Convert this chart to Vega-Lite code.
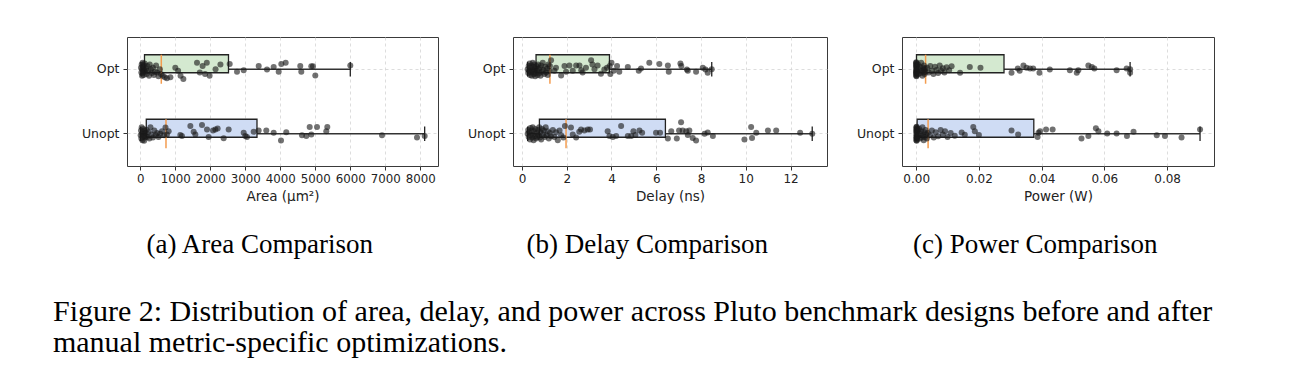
{
"$schema": "https://vega.github.io/schema/vega-lite/v6.json",
"background": "white",
"padding": {"left": 52, "top": 36, "right": 5, "bottom": 5},
"spacing": 27,
"title": {"text": ["Figure 2: Distribution of area, delay, and power across Pluto benchmark designs before and after", "manual metric-specific optimizations."], "orient": "bottom", "anchor": "start", "frame": "bounds", "dx": -28, "offset": 38, "font": "Liberation Serif", "fontSize": 30, "lineHeight": 31, "fontWeight": "normal", "color": "#000"},
"config": {
 "view": {"stroke": "#3a3a3a", "strokeWidth": 1},
 "axis": {"labelFont": "DejaVu Sans", "labelFontSize": 12, "labelColor": "#222", "labelOverlap": false, "titleFont": "DejaVu Sans", "titleFontSize": 13.5, "titleFontWeight": "normal", "titleColor": "#222", "tickColor": "#333", "tickSize": 4, "labelPadding": 3, "titlePadding": 5, "domain": false, "grid": true, "gridColor": "#d4d4d4", "gridDash": [3, 3], "gridWidth": 0.8}
},
"datasets": {
 "stats": [
  {"m": "Area", "g": "Opt", "lo": 20, "q1": 120, "med": 600, "q3": 2520, "hi": 6000},
  {"m": "Area", "g": "Unopt", "lo": 10, "q1": 171, "med": 734, "q3": 3334, "hi": 8125},
  {"m": "Delay", "g": "Opt", "lo": 0.255, "q1": 0.63, "med": 1.25, "q3": 3.91, "hi": 8.48},
  {"m": "Delay", "g": "Unopt", "lo": 0.255, "q1": 0.78, "med": 1.97, "q3": 6.41, "hi": 12.97},
  {"m": "Power", "g": "Opt", "lo": 0.0, "q1": 0.0001, "med": 0.003, "q3": 0.028, "hi": 0.0682},
  {"m": "Power", "g": "Unopt", "lo": 0.0, "q1": 0.0003, "med": 0.0038, "q3": 0.0375, "hi": 0.0905}
 ],
 "area": [
  {"g":"Opt","v":20,"j":-0.05},{"g":"Opt","v":30,"j":0.1},{"g":"Opt","v":40,"j":-0.15},{"g":"Opt","v":50,"j":0.2},{"g":"Opt","v":55,"j":0},{"g":"Opt","v":65,"j":-0.2},{"g":"Opt","v":70,"j":0.12},{"g":"Opt","v":80,"j":-0.08},{"g":"Opt","v":90,"j":0.05},{"g":"Opt","v":95,"j":0.18},{"g":"Opt","v":105,"j":-0.12},{"g":"Opt","v":110,"j":0.02},{"g":"Opt","v":125,"j":-0.18},{"g":"Opt","v":140,"j":0.08},{"g":"Opt","v":160,"j":-0.02},
  {"g":"Opt","v":180,"j":0.15},{"g":"Opt","v":200,"j":-0.1},{"g":"Opt","v":220,"j":0.05},{"g":"Opt","v":250,"j":0.2},{"g":"Opt","v":270,"j":-0.15},{"g":"Opt","v":300,"j":0},{"g":"Opt","v":330,"j":0.12},{"g":"Opt","v":360,"j":-0.05},{"g":"Opt","v":390,"j":0.18},{"g":"Opt","v":420,"j":0.08},{"g":"Opt","v":450,"j":-0.12},{"g":"Opt","v":480,"j":0.1},{"g":"Opt","v":520,"j":0.22},{"g":"Opt","v":560,"j":0},{"g":"Opt","v":590,"j":0.15},
  {"g":"Opt","v":640,"j":0.2},{"g":"Opt","v":700,"j":0.25},{"g":"Opt","v":760,"j":0.28},{"g":"Opt","v":860,"j":0.25},{"g":"Opt","v":1000,"j":-0.05},{"g":"Opt","v":1080,"j":0.05},{"g":"Opt","v":1150,"j":0.2},{"g":"Opt","v":1230,"j":0.3},{"g":"Opt","v":1620,"j":-0.2},{"g":"Opt","v":1700,"j":0.1},{"g":"Opt","v":1780,"j":-0.1},{"g":"Opt","v":1850,"j":0.15},{"g":"Opt","v":1900,"j":-0.2},{"g":"Opt","v":1980,"j":0.2},{"g":"Opt","v":2150,"j":0},{"g":"Opt","v":2290,"j":-0.15},
  {"g":"Opt","v":2554,"j":-0.16},{"g":"Opt","v":2763,"j":0.08},{"g":"Opt","v":2954,"j":0.03},{"g":"Opt","v":3383,"j":-0.1},{"g":"Opt","v":3620,"j":0.01},{"g":"Opt","v":3811,"j":-0.07},{"g":"Opt","v":3954,"j":0.08},{"g":"Opt","v":4029,"j":-0.16},{"g":"Opt","v":4154,"j":-0.2},{"g":"Opt","v":4571,"j":-0.1},{"g":"Opt","v":4600,"j":0.08},{"g":"Opt","v":4886,"j":-0.09},{"g":"Opt","v":4934,"j":-0.09},{"g":"Opt","v":5000,"j":0.19},{"g":"Opt","v":6000,"j":-0.12},
  {"g":"Unopt","v":10,"j":0.05},{"g":"Unopt","v":20,"j":-0.1},{"g":"Unopt","v":30,"j":0.15},{"g":"Unopt","v":40,"j":-0.2},{"g":"Unopt","v":50,"j":0},{"g":"Unopt","v":60,"j":0.2},{"g":"Unopt","v":70,"j":-0.05},{"g":"Unopt","v":80,"j":0.1},{"g":"Unopt","v":90,"j":-0.15},{"g":"Unopt","v":100,"j":0.05},{"g":"Unopt","v":110,"j":0.22},{"g":"Unopt","v":125,"j":-0.1},{"g":"Unopt","v":135,"j":0.12},{"g":"Unopt","v":150,"j":-0.02},{"g":"Unopt","v":165,"j":0.08},
  {"g":"Unopt","v":180,"j":-0.12},{"g":"Unopt","v":200,"j":0.1},{"g":"Unopt","v":230,"j":-0.05},{"g":"Unopt","v":260,"j":0.15},{"g":"Unopt","v":290,"j":-0.2},{"g":"Unopt","v":320,"j":0.02},{"g":"Unopt","v":360,"j":0.12},{"g":"Unopt","v":400,"j":-0.1},{"g":"Unopt","v":440,"j":0.05},{"g":"Unopt","v":480,"j":-0.02},{"g":"Unopt","v":520,"j":0.1},{"g":"Unopt","v":570,"j":0},{"g":"Unopt","v":620,"j":-0.08},{"g":"Unopt","v":680,"j":0.05},{"g":"Unopt","v":720,"j":-0.19},
  {"g":"Unopt","v":760,"j":0.02},{"g":"Unopt","v":810,"j":-0.08},{"g":"Unopt","v":1144,"j":0.04},{"g":"Unopt","v":1190,"j":0.07},{"g":"Unopt","v":1430,"j":-0.24},{"g":"Unopt","v":1525,"j":-0.06},{"g":"Unopt","v":1573,"j":0.02},{"g":"Unopt","v":1763,"j":-0.27},{"g":"Unopt","v":1906,"j":-0.13},{"g":"Unopt","v":1953,"j":0.1},{"g":"Unopt","v":2077,"j":-0.1},{"g":"Unopt","v":2144,"j":-0.13},{"g":"Unopt","v":2210,"j":-0.16},{"g":"Unopt","v":2382,"j":0.14},{"g":"Unopt","v":2525,"j":-0.13},{"g":"Unopt","v":2954,"j":-0.03},{"g":"Unopt","v":3001,"j":0.07},{"g":"Unopt","v":3049,"j":0.1},{"g":"Unopt","v":3239,"j":-0.06},
  {"g":"Unopt","v":3382,"j":-0.1},{"g":"Unopt","v":3600,"j":-0.1},{"g":"Unopt","v":3811,"j":-0.03},{"g":"Unopt","v":4020,"j":0.21},{"g":"Unopt","v":4171,"j":-0.05},{"g":"Unopt","v":4620,"j":0.05},{"g":"Unopt","v":4743,"j":0.07},{"g":"Unopt","v":4840,"j":-0.21},{"g":"Unopt","v":4886,"j":0.02},{"g":"Unopt","v":5049,"j":-0.21},{"g":"Unopt","v":5314,"j":-0.08},{"g":"Unopt","v":5343,"j":-0.21},{"g":"Unopt","v":6906,"j":0.05},{"g":"Unopt","v":7906,"j":0.12},{"g":"Unopt","v":8125,"j":0.07}
 ],
 "delay": [
  {"g":"Opt","v":0.255,"j":0},{"g":"Opt","v":0.28,"j":0.12},{"g":"Opt","v":0.3,"j":-0.1},{"g":"Opt","v":0.32,"j":0.05},{"g":"Opt","v":0.34,"j":-0.18},{"g":"Opt","v":0.36,"j":0.18},{"g":"Opt","v":0.38,"j":-0.05},{"g":"Opt","v":0.4,"j":0.1},{"g":"Opt","v":0.42,"j":-0.12},{"g":"Opt","v":0.44,"j":0.2},{"g":"Opt","v":0.46,"j":0.02},{"g":"Opt","v":0.48,"j":-0.2},{"g":"Opt","v":0.5,"j":0.08},{"g":"Opt","v":0.52,"j":-0.08},{"g":"Opt","v":0.54,"j":0.15},{"g":"Opt","v":0.55,"j":-0.15},{"g":"Opt","v":0.57,"j":0.03},{"g":"Opt","v":0.59,"j":0.22},{"g":"Opt","v":0.6,"j":-0.03},{"g":"Opt","v":0.62,"j":0.12},
  {"g":"Opt","v":0.65,"j":-0.1},{"g":"Opt","v":0.68,"j":0.05},{"g":"Opt","v":0.7,"j":0.18},{"g":"Opt","v":0.72,"j":-0.15},{"g":"Opt","v":0.75,"j":0},{"g":"Opt","v":0.78,"j":0.12},{"g":"Opt","v":0.8,"j":-0.05},{"g":"Opt","v":0.83,"j":0.2},{"g":"Opt","v":0.86,"j":-0.12},{"g":"Opt","v":0.9,"j":0.08},{"g":"Opt","v":0.93,"j":-0.2},{"g":"Opt","v":0.96,"j":0.02},{"g":"Opt","v":1.0,"j":0.15},{"g":"Opt","v":1.04,"j":-0.08},{"g":"Opt","v":1.08,"j":0.1},{"g":"Opt","v":1.12,"j":-0.02},{"g":"Opt","v":1.15,"j":0.18},{"g":"Opt","v":1.18,"j":-0.15},{"g":"Opt","v":1.22,"j":0.05},{"g":"Opt","v":1.25,"j":-0.1},
  {"g":"Opt","v":1.3,"j":-0.28},{"g":"Opt","v":1.45,"j":0.05},{"g":"Opt","v":1.52,"j":-0.05},{"g":"Opt","v":1.75,"j":0.19},{"g":"Opt","v":1.9,"j":-0.1},{"g":"Opt","v":1.97,"j":0.08},{"g":"Opt","v":2.12,"j":-0.12},{"g":"Opt","v":2.27,"j":0.05},{"g":"Opt","v":2.42,"j":-0.12},{"g":"Opt","v":2.57,"j":-0.12},{"g":"Opt","v":2.65,"j":0.03},{"g":"Opt","v":2.71,"j":0.1},{"g":"Opt","v":2.86,"j":-0.05},{"g":"Opt","v":3.09,"j":-0.28},{"g":"Opt","v":3.15,"j":-0.15},{"g":"Opt","v":3.24,"j":0},{"g":"Opt","v":3.38,"j":-0.12},{"g":"Opt","v":3.53,"j":0.14},{"g":"Opt","v":3.68,"j":0.01},{"g":"Opt","v":3.8,"j":-0.05},
  {"g":"Opt","v":3.92,"j":-0.1},{"g":"Opt","v":3.95,"j":0.15},{"g":"Opt","v":4.0,"j":-0.2},{"g":"Opt","v":4.1,"j":0.05},{"g":"Opt","v":4.25,"j":-0.1},{"g":"Opt","v":4.35,"j":0.08},{"g":"Opt","v":4.73,"j":-0.07},{"g":"Opt","v":5.22,"j":0.05},{"g":"Opt","v":5.32,"j":-0.02},{"g":"Opt","v":5.69,"j":-0.2},{"g":"Opt","v":6.14,"j":-0.16},{"g":"Opt","v":6.52,"j":-0.12},{"g":"Opt","v":6.56,"j":0.08},{"g":"Opt","v":7.08,"j":-0.18},{"g":"Opt","v":7.12,"j":-0.1},{"g":"Opt","v":7.37,"j":0.01},{"g":"Opt","v":7.41,"j":0.05},{"g":"Opt","v":7.78,"j":0.08},{"g":"Opt","v":8.08,"j":-0.05},{"g":"Opt","v":8.2,"j":0.01},{"g":"Opt","v":8.3,"j":0.11},{"g":"Opt","v":8.48,"j":0},
  {"g":"Unopt","v":0.255,"j":0},{"g":"Unopt","v":0.28,"j":-0.12},{"g":"Unopt","v":0.3,"j":0.1},{"g":"Unopt","v":0.33,"j":-0.05},{"g":"Unopt","v":0.36,"j":0.18},{"g":"Unopt","v":0.38,"j":-0.18},{"g":"Unopt","v":0.4,"j":0.05},{"g":"Unopt","v":0.43,"j":-0.1},{"g":"Unopt","v":0.46,"j":0.12},{"g":"Unopt","v":0.48,"j":-0.2},{"g":"Unopt","v":0.5,"j":0.02},{"g":"Unopt","v":0.52,"j":0.2},{"g":"Unopt","v":0.55,"j":-0.08},{"g":"Unopt","v":0.58,"j":0.08},{"g":"Unopt","v":0.6,"j":-0.15},{"g":"Unopt","v":0.63,"j":0.15},{"g":"Unopt","v":0.66,"j":-0.03},{"g":"Unopt","v":0.69,"j":0.1},{"g":"Unopt","v":0.72,"j":-0.12},{"g":"Unopt","v":0.75,"j":0.05},{"g":"Unopt","v":0.77,"j":-0.2},
  {"g":"Unopt","v":0.8,"j":0.12},{"g":"Unopt","v":0.83,"j":-0.05},{"g":"Unopt","v":0.86,"j":0.18},{"g":"Unopt","v":0.9,"j":-0.15},{"g":"Unopt","v":0.94,"j":0.02},{"g":"Unopt","v":0.98,"j":-0.1},{"g":"Unopt","v":1.02,"j":0.1},{"g":"Unopt","v":1.06,"j":-0.2},{"g":"Unopt","v":1.1,"j":0.05},{"g":"Unopt","v":1.15,"j":-0.08},{"g":"Unopt","v":1.2,"j":0.15},{"g":"Unopt","v":1.25,"j":-0.02},{"g":"Unopt","v":1.3,"j":0.08},{"g":"Unopt","v":1.38,"j":-0.12},{"g":"Unopt","v":1.45,"j":0.1},{"g":"Unopt","v":1.52,"j":-0.05},{"g":"Unopt","v":1.6,"j":0.2},{"g":"Unopt","v":1.68,"j":-0.1},{"g":"Unopt","v":1.75,"j":0.05},{"g":"Unopt","v":1.85,"j":0.12},{"g":"Unopt","v":1.92,"j":-0.24},
  {"g":"Unopt","v":2.19,"j":-0.19},{"g":"Unopt","v":2.27,"j":0.02},{"g":"Unopt","v":2.42,"j":0.12},{"g":"Unopt","v":2.56,"j":-0.06},{"g":"Unopt","v":2.64,"j":-0.13},{"g":"Unopt","v":2.79,"j":-0.1},{"g":"Unopt","v":2.94,"j":-0.13},{"g":"Unopt","v":3.04,"j":-0.13},{"g":"Unopt","v":3.83,"j":-0.08},{"g":"Unopt","v":3.91,"j":0.07},{"g":"Unopt","v":4.06,"j":0.1},{"g":"Unopt","v":4.21,"j":0.07},{"g":"Unopt","v":4.43,"j":-0.24},{"g":"Unopt","v":4.73,"j":0.07},{"g":"Unopt","v":4.88,"j":0.07},{"g":"Unopt","v":4.98,"j":-0.08},{"g":"Unopt","v":5.07,"j":0.04},{"g":"Unopt","v":5.25,"j":-0.1},{"g":"Unopt","v":5.37,"j":-0.03},{"g":"Unopt","v":5.99,"j":-0.03},{"g":"Unopt","v":6.17,"j":-0.03},
  {"g":"Unopt","v":6.52,"j":0.15},{"g":"Unopt","v":6.67,"j":-0.08},{"g":"Unopt","v":6.92,"j":0.15},{"g":"Unopt","v":7.02,"j":-0.1},{"g":"Unopt","v":7.11,"j":-0.36},{"g":"Unopt","v":7.18,"j":-0.1},{"g":"Unopt","v":7.34,"j":-0.08},{"g":"Unopt","v":7.41,"j":0.04},{"g":"Unopt","v":7.48,"j":-0.1},{"g":"Unopt","v":7.63,"j":0.13},{"g":"Unopt","v":7.78,"j":0.21},{"g":"Unopt","v":8.16,"j":0},{"g":"Unopt","v":8.3,"j":-0.04},{"g":"Unopt","v":8.53,"j":0.07},{"g":"Unopt","v":9.94,"j":0.18},{"g":"Unopt","v":10.24,"j":-0.21},{"g":"Unopt","v":10.28,"j":0.13},{"g":"Unopt","v":10.47,"j":-0.03},{"g":"Unopt","v":10.99,"j":-0.1},{"g":"Unopt","v":11.36,"j":-0.1},{"g":"Unopt","v":12.43,"j":-0.03},{"g":"Unopt","v":12.97,"j":0}
 ],
 "power": [
  {"g":"Opt","v":0.00001,"j":0.1},{"g":"Opt","v":0.00002,"j":-0.1},{"g":"Opt","v":0.00003,"j":0.2},{"g":"Opt","v":0.00004,"j":-0.2},{"g":"Opt","v":0.00005,"j":0},{"g":"Opt","v":0.00006,"j":0.15},{"g":"Opt","v":0.00007,"j":-0.15},{"g":"Opt","v":0.00008,"j":0.05},{"g":"Opt","v":0.00009,"j":-0.05},{"g":"Opt","v":0.0001,"j":0.22},{"g":"Opt","v":0.00002,"j":-0.22},{"g":"Opt","v":0.00004,"j":0.12},{"g":"Opt","v":0.00006,"j":-0.08},{"g":"Opt","v":0.00008,"j":0.18},{"g":"Opt","v":0.00003,"j":-0.18},{"g":"Opt","v":0.00005,"j":0.08},{"g":"Opt","v":0.00007,"j":-0.12},{"g":"Opt","v":0.00009,"j":0.02},
  {"g":"Opt","v":0.0002,"j":0.1},{"g":"Opt","v":0.0003,"j":-0.1},{"g":"Opt","v":0.0004,"j":0.05},{"g":"Opt","v":0.0006,"j":-0.15},{"g":"Opt","v":0.0008,"j":0.15},{"g":"Opt","v":0.001,"j":0},{"g":"Opt","v":0.0012,"j":-0.08},{"g":"Opt","v":0.0014,"j":0.12},{"g":"Opt","v":0.0016,"j":-0.2},{"g":"Opt","v":0.0018,"j":0.05},{"g":"Opt","v":0.002,"j":0.2},{"g":"Opt","v":0.0022,"j":-0.05},{"g":"Opt","v":0.0024,"j":0.1},{"g":"Opt","v":0.0025,"j":-0.12},{"g":"Opt","v":0.0026,"j":0.02},{"g":"Opt","v":0.0027,"j":0.15},{"g":"Opt","v":0.0028,"j":-0.02},{"g":"Opt","v":0.0029,"j":0.08},
  {"g":"Opt","v":0.0035,"j":-0.05},{"g":"Opt","v":0.004,"j":0.1},{"g":"Opt","v":0.0045,"j":-0.1},{"g":"Opt","v":0.005,"j":0.05},{"g":"Opt","v":0.0055,"j":0.15},{"g":"Opt","v":0.006,"j":-0.08},{"g":"Opt","v":0.0065,"j":0.02},{"g":"Opt","v":0.007,"j":0.12},{"g":"Opt","v":0.0075,"j":-0.12},{"g":"Opt","v":0.008,"j":0.05},{"g":"Opt","v":0.0085,"j":-0.03},{"g":"Opt","v":0.009,"j":0.1},{"g":"Opt","v":0.0097,"j":-0.06},{"g":"Opt","v":0.0105,"j":0.03},{"g":"Opt","v":0.0113,"j":-0.09},{"g":"Opt","v":0.014,"j":0.11},{"g":"Opt","v":0.0171,"j":-0.07},{"g":"Opt","v":0.0205,"j":-0.05},
  {"g":"Opt","v":0.0304,"j":0.11},{"g":"Opt","v":0.0324,"j":-0.02},{"g":"Opt","v":0.033,"j":0.05},{"g":"Opt","v":0.0342,"j":-0.12},{"g":"Opt","v":0.0352,"j":-0.05},{"g":"Opt","v":0.0363,"j":-0.02},{"g":"Opt","v":0.0373,"j":-0.02},{"g":"Opt","v":0.0393,"j":0.11},{"g":"Opt","v":0.0426,"j":0.01},{"g":"Opt","v":0.049,"j":0.03},{"g":"Opt","v":0.0512,"j":0.11},{"g":"Opt","v":0.0517,"j":0.03},{"g":"Opt","v":0.0549,"j":-0.12},{"g":"Opt","v":0.056,"j":-0.07},{"g":"Opt","v":0.0568,"j":-0.02},{"g":"Opt","v":0.0639,"j":0.03},{"g":"Opt","v":0.0671,"j":-0.02},{"g":"Opt","v":0.0682,"j":0.11},{"g":"Opt","v":0.0682,"j":0},
  {"g":"Unopt","v":0.00001,"j":-0.1},{"g":"Unopt","v":0.00002,"j":0.1},{"g":"Unopt","v":0.00004,"j":-0.2},{"g":"Unopt","v":0.00005,"j":0.2},{"g":"Unopt","v":0.00007,"j":0},{"g":"Unopt","v":0.00009,"j":-0.15},{"g":"Unopt","v":0.0001,"j":0.15},{"g":"Unopt","v":0.00012,"j":-0.05},{"g":"Unopt","v":0.00014,"j":0.05},{"g":"Unopt","v":0.00016,"j":0.22},{"g":"Unopt","v":0.00018,"j":-0.22},{"g":"Unopt","v":0.0002,"j":0.12},{"g":"Unopt","v":0.00022,"j":-0.08},{"g":"Unopt","v":0.00024,"j":0.18},{"g":"Unopt","v":0.00026,"j":-0.18},{"g":"Unopt","v":0.00028,"j":0.08},{"g":"Unopt","v":0.0003,"j":-0.12},
  {"g":"Unopt","v":0.0004,"j":0.1},{"g":"Unopt","v":0.0006,"j":-0.1},{"g":"Unopt","v":0.0008,"j":0.05},{"g":"Unopt","v":0.001,"j":-0.15},{"g":"Unopt","v":0.0012,"j":0.15},{"g":"Unopt","v":0.0014,"j":0},{"g":"Unopt","v":0.0016,"j":-0.08},{"g":"Unopt","v":0.0018,"j":0.12},{"g":"Unopt","v":0.002,"j":-0.2},{"g":"Unopt","v":0.0022,"j":0.05},{"g":"Unopt","v":0.0024,"j":0.2},{"g":"Unopt","v":0.0026,"j":-0.05},{"g":"Unopt","v":0.0028,"j":0.1},{"g":"Unopt","v":0.003,"j":-0.12},{"g":"Unopt","v":0.0032,"j":0.02},{"g":"Unopt","v":0.0034,"j":0.15},{"g":"Unopt","v":0.0037,"j":-0.02},
  {"g":"Unopt","v":0.0044,"j":0.05},{"g":"Unopt","v":0.005,"j":-0.1},{"g":"Unopt","v":0.0056,"j":0.12},{"g":"Unopt","v":0.0062,"j":-0.05},{"g":"Unopt","v":0.007,"j":0.08},{"g":"Unopt","v":0.0078,"j":-0.12},{"g":"Unopt","v":0.0085,"j":0.02},{"g":"Unopt","v":0.0092,"j":-0.08},{"g":"Unopt","v":0.01,"j":0.1},{"g":"Unopt","v":0.011,"j":-0.02},{"g":"Unopt","v":0.0123,"j":0.06},{"g":"Unopt","v":0.0145,"j":-0.04},{"g":"Unopt","v":0.0155,"j":0.03},{"g":"Unopt","v":0.0182,"j":-0.21},{"g":"Unopt","v":0.0187,"j":-0.08},{"g":"Unopt","v":0.02,"j":0.04},{"g":"Unopt","v":0.0304,"j":-0.1},{"g":"Unopt","v":0.0325,"j":0.02},
  {"g":"Unopt","v":0.0387,"j":0.1},{"g":"Unopt","v":0.039,"j":-0.03},{"g":"Unopt","v":0.0395,"j":-0.08},{"g":"Unopt","v":0.0414,"j":-0.13},{"g":"Unopt","v":0.0435,"j":-0.13},{"g":"Unopt","v":0.0527,"j":0.15},{"g":"Unopt","v":0.0549,"j":0.07},{"g":"Unopt","v":0.0573,"j":-0.17},{"g":"Unopt","v":0.0581,"j":-0.08},{"g":"Unopt","v":0.0609,"j":-0.01},{"g":"Unopt","v":0.0639,"j":-0.01},{"g":"Unopt","v":0.0672,"j":0.07},{"g":"Unopt","v":0.0693,"j":-0.06},{"g":"Unopt","v":0.0767,"j":0.05},{"g":"Unopt","v":0.0793,"j":0.07},{"g":"Unopt","v":0.0846,"j":0.12},{"g":"Unopt","v":0.0905,"j":-0.13}
 ]
},
"hconcat": [
 {
  "width": 311, "height": 129,
  "title": {"text": "(a) Area Comparison", "orient": "bottom", "anchor": "middle", "frame": "bounds", "offset": 29, "font": "Liberation Serif", "fontSize": 27, "fontWeight": "normal", "color": "#000"},
  "layer": [
   {"data": {"name": "stats"}, "transform": [{"filter": "datum.m === 'Area'"}],
    "mark": {"type": "rule", "color": "#333", "strokeWidth": 1.3},
    "encoding": {
     "x": {"field": "lo", "type": "quantitative", "title": "Area (µm²)", "scale": {"domain": [-380, 8506], "nice": false, "zero": false}, "axis": {"values": [0, 1000, 2000, 3000, 4000, 5000, 6000, 7000, 8000], "format": "d", "labelOverlap": false, "labelSeparation": -20, "labelFontSize": 11.8}},
     "x2": {"field": "hi"},
     "y": {"field": "g", "type": "nominal", "title": null, "scale": {"domain": ["Opt", "Unopt"], "paddingInner": 0, "paddingOuter": 0}, "axis": {"bandPosition": 0.5, "labelFontSize": 12.5, "labelPadding": 4}}}},
   {"data": {"name": "stats"}, "transform": [{"filter": "datum.m === 'Area'"}],
    "mark": {"type": "bar", "height": {"band": 0.45}, "stroke": "#222", "strokeWidth": 1.3, "fillOpacity": 1},
    "encoding": {
     "x": {"field": "q1", "type": "quantitative", "title": "Area (µm²)", "axis": {"values": [0, 1000, 2000, 3000, 4000, 5000, 6000, 7000, 8000], "format": "d", "labelOverlap": false, "labelSeparation": -20, "labelFontSize": 11.8}}, "x2": {"field": "q3"},
     "y": {"field": "g", "type": "nominal", "title": null},
     "fill": {"field": "g", "type": "nominal", "scale": {"domain": ["Opt", "Unopt"], "range": ["#d4e9d0", "#cfdcf4"]}, "legend": null}}},
   {"data": {"name": "stats"}, "transform": [{"filter": "datum.m === 'Area'"}],
    "mark": {"type": "tick", "color": "#f39c4f", "thickness": 1.5, "size": 29, "opacity": 1},
    "encoding": {"x": {"field": "med", "type": "quantitative", "title": "Area (µm²)", "axis": {"values": [0, 1000, 2000, 3000, 4000, 5000, 6000, 7000, 8000], "format": "d", "labelOverlap": false, "labelSeparation": -20, "labelFontSize": 11.8}}, "y": {"field": "g", "type": "nominal", "title": null}}},
   {"data": {"name": "stats"}, "transform": [{"filter": "datum.m === 'Area'"}, {"fold": ["lo", "hi"], "as": ["k", "cv"]}],
    "mark": {"type": "tick", "color": "#222", "thickness": 1.3, "size": 14.5, "opacity": 1},
    "encoding": {"x": {"field": "cv", "type": "quantitative", "title": "Area (µm²)", "axis": {"values": [0, 1000, 2000, 3000, 4000, 5000, 6000, 7000, 8000], "format": "d", "labelOverlap": false, "labelSeparation": -20, "labelFontSize": 11.8}}, "y": {"field": "g", "type": "nominal", "title": null}}},
   {"data": {"name": "area"},
    "mark": {"type": "circle", "size": 36, "color": "#1a1a1a", "opacity": 0.62},
    "encoding": {"x": {"field": "v", "type": "quantitative", "title": "Area (µm²)", "axis": {"values": [0, 1000, 2000, 3000, 4000, 5000, 6000, 7000, 8000], "format": "d", "labelOverlap": false, "labelSeparation": -20, "labelFontSize": 11.8}}, "y": {"field": "g", "type": "nominal", "title": null}, "yOffset": {"field": "j", "type": "quantitative", "scale": {"domain": [-1, 1]}}}}
  ]
 },
 {
  "width": 314, "height": 129,
  "title": {"text": "(b) Delay Comparison", "orient": "bottom", "anchor": "middle", "frame": "bounds", "offset": 29, "font": "Liberation Serif", "fontSize": 27, "fontWeight": "normal", "color": "#000"},
  "layer": [
   {"data": {"name": "stats"}, "transform": [{"filter": "datum.m === 'Delay'"}],
    "mark": {"type": "rule", "color": "#333", "strokeWidth": 1.3},
    "encoding": {
     "x": {"field": "lo", "type": "quantitative", "title": "Delay (ns)", "scale": {"domain": [-0.4, 13.63], "nice": false, "zero": false}, "axis": {"values": [0, 2, 4, 6, 8, 10, 12], "format": "d", "labelOverlap": false}},
     "x2": {"field": "hi"},
     "y": {"field": "g", "type": "nominal", "title": null, "scale": {"domain": ["Opt", "Unopt"], "paddingInner": 0, "paddingOuter": 0}, "axis": {"bandPosition": 0.5, "labelFontSize": 12.5, "labelPadding": 4}}}},
   {"data": {"name": "stats"}, "transform": [{"filter": "datum.m === 'Delay'"}],
    "mark": {"type": "bar", "height": {"band": 0.45}, "stroke": "#222", "strokeWidth": 1.3, "fillOpacity": 1},
    "encoding": {
     "x": {"field": "q1", "type": "quantitative", "title": "Delay (ns)"}, "x2": {"field": "q3"},
     "y": {"field": "g", "type": "nominal", "title": null},
     "fill": {"field": "g", "type": "nominal", "scale": {"domain": ["Opt", "Unopt"], "range": ["#d4e9d0", "#cfdcf4"]}, "legend": null}}},
   {"data": {"name": "stats"}, "transform": [{"filter": "datum.m === 'Delay'"}],
    "mark": {"type": "tick", "color": "#f39c4f", "thickness": 1.5, "size": 29, "opacity": 1},
    "encoding": {"x": {"field": "med", "type": "quantitative", "title": "Delay (ns)"}, "y": {"field": "g", "type": "nominal", "title": null}}},
   {"data": {"name": "stats"}, "transform": [{"filter": "datum.m === 'Delay'"}, {"fold": ["lo", "hi"], "as": ["k", "cv"]}],
    "mark": {"type": "tick", "color": "#222", "thickness": 1.3, "size": 14.5, "opacity": 1},
    "encoding": {"x": {"field": "cv", "type": "quantitative", "title": "Delay (ns)"}, "y": {"field": "g", "type": "nominal", "title": null}}},
   {"data": {"name": "delay"},
    "mark": {"type": "circle", "size": 36, "color": "#1a1a1a", "opacity": 0.62},
    "encoding": {"x": {"field": "v", "type": "quantitative", "title": "Delay (ns)"}, "y": {"field": "g", "type": "nominal", "title": null}, "yOffset": {"field": "j", "type": "quantitative", "scale": {"domain": [-1, 1]}}}}
  ]
 },
 {
  "width": 312, "height": 129,
  "title": {"text": "(c) Power Comparison", "orient": "bottom", "anchor": "middle", "frame": "bounds", "offset": 29, "font": "Liberation Serif", "fontSize": 27, "fontWeight": "normal", "color": "#000"},
  "layer": [
   {"data": {"name": "stats"}, "transform": [{"filter": "datum.m === 'Power'"}],
    "mark": {"type": "rule", "color": "#333", "strokeWidth": 1.3},
    "encoding": {
     "x": {"field": "lo", "type": "quantitative", "title": "Power (W)", "scale": {"domain": [-0.00452, 0.09495], "nice": false, "zero": false}, "axis": {"values": [0, 0.02, 0.04, 0.06, 0.08], "format": ".2f", "labelOverlap": false}},
     "x2": {"field": "hi"},
     "y": {"field": "g", "type": "nominal", "title": null, "scale": {"domain": ["Opt", "Unopt"], "paddingInner": 0, "paddingOuter": 0}, "axis": {"bandPosition": 0.5, "labelFontSize": 12.5, "labelPadding": 4}}}},
   {"data": {"name": "stats"}, "transform": [{"filter": "datum.m === 'Power'"}],
    "mark": {"type": "bar", "height": {"band": 0.45}, "stroke": "#222", "strokeWidth": 1.3, "fillOpacity": 1},
    "encoding": {
     "x": {"field": "q1", "type": "quantitative", "title": "Power (W)"}, "x2": {"field": "q3"},
     "y": {"field": "g", "type": "nominal", "title": null},
     "fill": {"field": "g", "type": "nominal", "scale": {"domain": ["Opt", "Unopt"], "range": ["#d4e9d0", "#cfdcf4"]}, "legend": null}}},
   {"data": {"name": "stats"}, "transform": [{"filter": "datum.m === 'Power'"}],
    "mark": {"type": "tick", "color": "#f39c4f", "thickness": 1.5, "size": 29, "opacity": 1},
    "encoding": {"x": {"field": "med", "type": "quantitative", "title": "Power (W)"}, "y": {"field": "g", "type": "nominal", "title": null}}},
   {"data": {"name": "stats"}, "transform": [{"filter": "datum.m === 'Power'"}, {"fold": ["lo", "hi"], "as": ["k", "cv"]}],
    "mark": {"type": "tick", "color": "#222", "thickness": 1.3, "size": 14.5, "opacity": 1},
    "encoding": {"x": {"field": "cv", "type": "quantitative", "title": "Power (W)"}, "y": {"field": "g", "type": "nominal", "title": null}}},
   {"data": {"name": "power"},
    "mark": {"type": "circle", "size": 36, "color": "#1a1a1a", "opacity": 0.62},
    "encoding": {"x": {"field": "v", "type": "quantitative", "title": "Power (W)"}, "y": {"field": "g", "type": "nominal", "title": null}, "yOffset": {"field": "j", "type": "quantitative", "scale": {"domain": [-1, 1]}}}}
  ]
 }
]
}
